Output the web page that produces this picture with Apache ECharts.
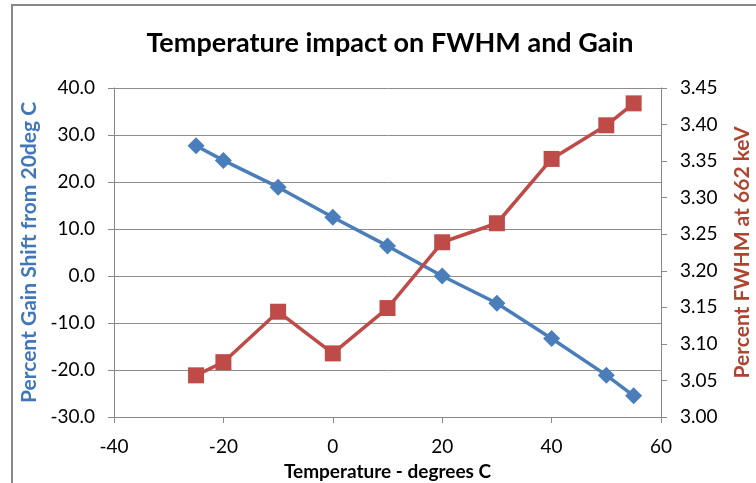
<!DOCTYPE html>
<html>
<head>
<meta charset="utf-8">
<script src="https://cdn.jsdelivr.net/npm/echarts@6/dist/echarts.min.js"></script>
<style>
  html, body { margin: 0; padding: 0; background: #fff; }
  #chart { width: 756px; height: 483px; }
</style>
</head>
<body>
<div id="chart"></div>
<script>
// temperatures (deg C)
var temps = [-25, -20, -10, 0, 10, 20, 30, 40, 50, 55];
// percent gain shift from 20 deg C (left axis)
var gainShift = [27.7, 24.6, 18.9, 12.5, 6.4, 0.0, -5.8, -13.3, -21.1, -25.5];
// percent FWHM at 662 keV (right axis)
var fwhm = [3.057, 3.075, 3.144, 3.087, 3.149, 3.239, 3.265, 3.353, 3.399, 3.429];

var FONT = 'Lato, "Open Sans", sans-serif';

var chart = echarts.init(document.getElementById('chart'));

var option = {
  backgroundColor: '#fff',
  animation: false,
  textStyle: { fontFamily: FONT },
  title: {
    text: 'Temperature impact on FWHM and Gain',
    left: 385,
    textAlign: 'center',
    top: 25,
    textStyle: { fontSize: 27, fontWeight: 'bold', color: '#000', fontFamily: FONT }
  },
  graphic: [{
    type: 'rect',
    shape: { x: 12, y: 5, width: 800, height: 600 },
    style: { fill: null, stroke: '#888', lineWidth: 2 }
  }],
  grid: { left: 114, right: 95, top: 88, bottom: 66, outerBoundsMode: 'none', containLabel: false },
  xAxis: {
    type: 'value',
    min: -40, max: 60, interval: 20,
    name: 'Temperature - degrees C',
    nameLocation: 'middle',
    nameGap: 45,
    nameTextStyle: { fontSize: 19, fontWeight: 'bold', color: '#000' },
    axisLine: { onZero: false, lineStyle: { color: '#888', width: 1 } },
    axisTick: { length: 6, lineStyle: { color: '#888' } },
    axisLabel: { fontSize: 19, color: '#000', margin: 20 },
    splitLine: { show: false }
  },
  yAxis: [{
    type: 'value',
    min: -30, max: 40, interval: 10,
    name: 'Percent Gain Shift from 20deg C',
    nameLocation: 'middle',
    nameGap: 72,
    nameTextStyle: { fontSize: 21, fontWeight: 'bold', color: '#4177B8' },
    axisLine: { show: true, onZero: false, lineStyle: { color: '#888' } },
    axisTick: { show: true, length: 6, lineStyle: { color: '#888' } },
    axisLabel: { fontSize: 19, color: '#000', margin: 19, formatter: function (v) { return v.toFixed(1); } },
    splitLine: { lineStyle: { color: '#8c8c8c', width: 1 } }
  }, {
    type: 'value',
    min: 3.0, max: 3.45, interval: 0.05,
    name: 'Percent FWHM at 662 keV',
    nameLocation: 'middle',
    nameGap: 71,
    nameRotate: -270,
    nameTextStyle: { fontSize: 21, fontWeight: 'bold', color: '#AE4530' },
    axisLine: { show: true, onZero: false, lineStyle: { color: '#888' } },
    axisTick: { show: true, length: 6, lineStyle: { color: '#888' } },
    axisLabel: { fontSize: 19, color: '#000', margin: 19, formatter: function (v) { return v.toFixed(2); } },
    splitLine: { show: false }
  }],
  series: [{
    name: 'Gain Shift',
    type: 'line',
    yAxisIndex: 0,
    data: temps.map(function (t, i) { return [t, gainShift[i]]; }),
    symbol: 'diamond',
    symbolSize: 17,
    itemStyle: { color: '#4A7EBB' },
    lineStyle: { color: '#4A7EBB', width: 3.5 }
  }, {
    name: 'FWHM',
    type: 'line',
    yAxisIndex: 1,
    data: temps.map(function (t, i) { return [t, fwhm[i]]; }),
    symbol: 'rect',
    symbolSize: 16,
    itemStyle: { color: '#BE4B48' },
    lineStyle: { color: '#BE4B48', width: 3.5 }
  }]
};

chart.setOption(option);
</script>
</body>
</html>
